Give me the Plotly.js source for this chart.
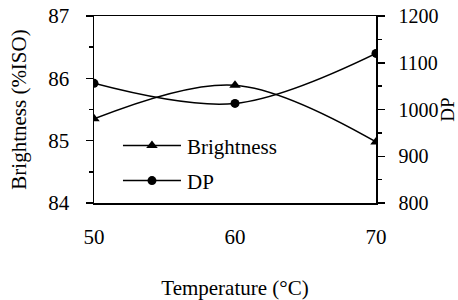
<!DOCTYPE html>
<html>
<head>
<meta charset="utf-8">
<script src="https://cdn.plot.ly/plotly-3.0.1.min.js"></script>
<style>html,body{margin:0;padding:0;background:#fff}#chart{width:458px;height:300px}</style>
</head>
<body>
<div id="chart"></div>
<script>
const temperature = [50, 60, 70];
const brightness = [85.35, 85.89, 84.98];
const dp = [1056, 1013, 1120];
const xTicks = [50, 60, 70];

const FONT = "Liberation Serif, Times New Roman, serif";
const FS = 21;

const traces = [
  {
    x: temperature, y: brightness, name: "Brightness", type: "scatter", mode: "lines+markers",
    line: {color: "#000", width: 1.5, shape: "spline", smoothing: 1},
    marker: {symbol: "triangle-up", size: 10, color: "#000"},
    legend: "legend"
  },
  {
    x: temperature, y: dp, name: "DP", type: "scatter", mode: "lines+markers", yaxis: "y2",
    line: {color: "#000", width: 1.5, shape: "spline", smoothing: 1},
    marker: {symbol: "circle", size: 9, color: "#000"},
    legend: "legend2"
  }
];

const layout = {
  width: 458, height: 300,
  margin: {l: 94, r: 82, t: 16, b: 97},
  paper_bgcolor: "#fff", plot_bgcolor: "#fff",
  font: {family: FONT, size: FS, color: "#000"},
  showlegend: true,
  xaxis: {
    range: [50, 70], tickvals: xTicks, ticktext: xTicks.map(String),
    showgrid: false, zeroline: false, showline: true, linecolor: "#000", linewidth: 1.5,
    mirror: true, ticks: "", ticklabelstandoff: 14,
    title: {text: "Temperature (°C)", font: {family: FONT, size: FS}, standoff: 32},
    automargin: false
  },
  yaxis: {
    range: [84, 87], dtick: 1, tick0: 84,
    showgrid: false, zeroline: false, showline: true, linecolor: "#000", linewidth: 1.5,
    ticks: "outside", ticklen: 7, tickwidth: 1.5, tickcolor: "#000", ticklabelstandoff: 12,
    minor: {dtick: 0.5, ticks: "outside", ticklen: 4, tickwidth: 1.5, tickcolor: "#000"},
    title: {text: "Brightness (%ISO)", font: {family: FONT, size: FS}, standoff: 16},
    automargin: false
  },
  yaxis2: {
    range: [800, 1200], dtick: 100, tick0: 800, overlaying: "y", side: "right",
    showgrid: false, zeroline: false, showline: true, linecolor: "#000", linewidth: 1.5,
    ticks: "outside", ticklen: 7, tickwidth: 1.5, tickcolor: "#000", ticklabelstandoff: 10,
    tickfont: {family: FONT, size: 20},
    minor: {dtick: 50, ticks: "outside", ticklen: 4, tickwidth: 1.5, tickcolor: "#000"},
    title: {text: "DP", font: {family: FONT, size: 19}, standoff: 0},
    automargin: false
  },
  legend: {x: 0.085, y: 0.305, xanchor: "left", yanchor: "middle", bgcolor: "rgba(0,0,0,0)",
           borderwidth: 0, itemwidth: 59, font: {family: FONT, size: FS}},
  legend2: {x: 0.085, y: 0.118, xanchor: "left", yanchor: "middle", bgcolor: "rgba(0,0,0,0)",
           borderwidth: 0, itemwidth: 59, font: {family: FONT, size: FS}}
};

Plotly.newPlot("chart", traces, layout, {staticPlot: true, displayModeBar: false}).then(function (gd) {
  // lengthen the legend sample lines, centring the marker on them
  gd.querySelectorAll(".legendlines path").forEach(function (p) { p.setAttribute("d", "M5,0h58"); });
  gd.querySelectorAll(".legendpoints path.scatterpts").forEach(function (p) {
    p.setAttribute("transform", "translate(34,0)");
  });
});
</script>
</body>
</html>
